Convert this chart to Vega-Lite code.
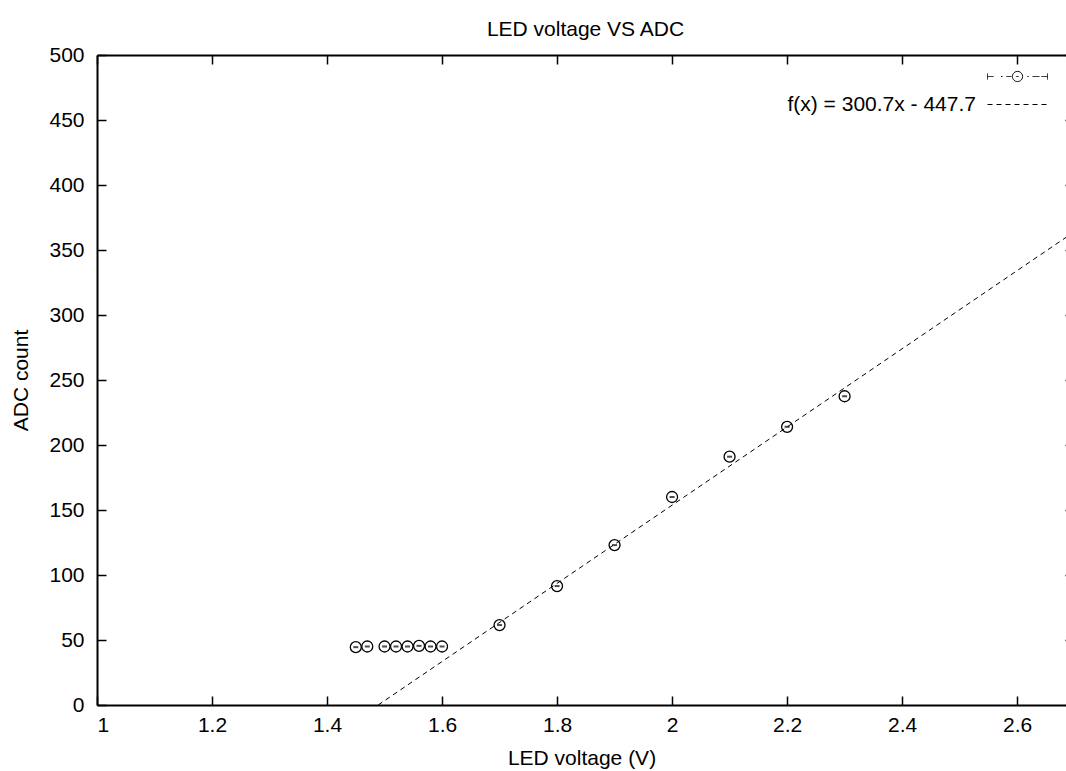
{
  "$schema": "https://vega.github.io/schema/vega-lite/v6.json",
  "width": 969,
  "height": 650,
  "autosize": {"type": "none"},
  "padding": {"left": 97, "top": 55, "right": 0, "bottom": 66},
  "background": "white",
  "title": {"text": "LED voltage VS ADC", "fontSize": 21, "font": "Liberation Sans", "fontWeight": "normal", "color": "black", "offset": 4, "dx": 4},
  "config": {
    "view": {"stroke": null},
    "font": "Liberation Sans",
    "axis": {
      "domainColor": "black", "domainWidth": 2, "tickColor": "black", "tickWidth": 1.5, "tickSize": -9,
      "labelColor": "black", "labelFontSize": 21, "labelFont": "Liberation Sans",
      "titleFontSize": 21, "titleFont": "Liberation Sans", "titleFontWeight": "normal", "titleColor": "black",
      "grid": false
    },
    "legend": {
      "title": null, "orient": "none", "legendX": 905, "legendY": 6, "labelAlign": "right", "labelOffset": -57,
      "labelFontSize": 21, "labelFont": "Liberation Sans", "labelColor": "black", "padding": 0, "labelLimit": 500,
      "symbolStrokeColor": "black", "symbolStrokeWidth": 1, "symbolSize": 900, "symbolFillColor": "transparent"
    }
  },
  "datasets": {
    "points": [
      {"v": 1.45, "adc": 44.5},
      {"v": 1.47, "adc": 45},
      {"v": 1.50, "adc": 45},
      {"v": 1.52, "adc": 45},
      {"v": 1.54, "adc": 45},
      {"v": 1.56, "adc": 45.5},
      {"v": 1.58, "adc": 45},
      {"v": 1.60, "adc": 45},
      {"v": 1.70, "adc": 61.5},
      {"v": 1.80, "adc": 91.5},
      {"v": 1.90, "adc": 123},
      {"v": 2.00, "adc": 160},
      {"v": 2.10, "adc": 191},
      {"v": 2.20, "adc": 214},
      {"v": 2.30, "adc": 237.5}
    ],
    "fit": [
      {"v": 1.4889, "adc": 0},
      {"v": 2.685, "adc": 359.7}
    ],
    "legend": [
      {"series": "data"},
      {"series": "f(x) = 300.7x - 447.7"}
    ]
  },
  "layer": [
    {
      "data": {"name": "fit"},
      "mark": {"type": "line", "stroke": "black", "strokeWidth": 1, "strokeDash": [5, 4], "clip": true},
      "encoding": {
        "x": {"field": "v", "type": "quantitative", "scale": {"domain": [1, 2.685], "nice": false, "zero": false},
              "axis": {"orient": "bottom", "values": [1, 1.2, 1.4, 1.6, 1.8, 2, 2.2, 2.4, 2.6], "format": "~g", "title": "LED voltage (V)", "labelPadding": 18, "titlePadding": 12}},
        "y": {"field": "adc", "type": "quantitative", "scale": {"domain": [0, 500], "nice": false, "zero": false},
              "axis": {"orient": "left", "values": [0, 50, 100, 150, 200, 250, 300, 350, 400, 450, 500], "title": "ADC count", "labelPadding": 22, "titlePadding": 17}}
      }
    },
    {
      "data": {"name": "points"},
      "mark": {"type": "point", "shape": "circle", "filled": false, "stroke": "black", "strokeWidth": 1.3, "size": 120, "opacity": 1},
      "encoding": {
        "x": {"field": "v", "type": "quantitative", "axis": null},
        "y": {"field": "adc", "type": "quantitative", "axis": null}
      }
    },
    {
      "data": {"name": "points"},
      "mark": {"type": "tick", "orient": "horizontal", "color": "black", "size": 5, "thickness": 2},
      "encoding": {
        "x": {"field": "v", "type": "quantitative", "axis": null},
        "y": {"field": "adc", "type": "quantitative", "axis": null}
      }
    },
    {
      "data": {"name": "points"},
      "mark": {"type": "point", "opacity": 0},
      "encoding": {
        "x": {"field": "v", "type": "quantitative", "axis": {"orient": "top", "values": [1, 1.2, 1.4, 1.6, 1.8, 2, 2.2, 2.4, 2.6], "labels": false, "title": null}},
        "y": {"field": "adc", "type": "quantitative", "axis": {"orient": "right", "offset": 8, "values": [0, 50, 100, 150, 200, 250, 300, 350, 400, 450, 500], "labels": false, "title": null, "domain": false}}
      }
    },
    {
      "data": {"name": "legend"},
      "mark": {"type": "point", "filled": false, "stroke": "black", "strokeWidth": 1, "opacity": 1, "size": 900},
      "encoding": {
        "x": {"field": "v", "type": "quantitative", "axis": null},
        "y": {"field": "adc", "type": "quantitative", "axis": null},
        "shape": {"field": "series", "type": "nominal",
                  "scale": {"domain": ["data", "f(x) = 300.7x - 447.7"],
                            "range": ["M-2,-0.2L-2,0.2M-2,0L-1.6,0M-1.1,0L-1,0M-0.74,0L-0.4,0M-0.34,0A0.34,0.34 0 1 0 0.34,0A0.34,0.34 0 1 0 -0.34,0M-0.08,0L0.08,0M0.66,0L0.76,0M1,0L1.46,0M1.6,0L2,0M2,-0.2L2,0.2", "M-2,0L2,0"]},
                  "legend": {"labelExpr": "datum.value == 'data' ? '' : datum.label"}},
        "strokeDash": {"field": "series", "type": "nominal",
                       "scale": {"domain": ["data", "f(x) = 300.7x - 447.7"], "range": [[1, 0], [5, 4]]},
                       "legend": {"labelExpr": "datum.value == 'data' ? '' : datum.label"}}
      }
    }
  ],
  "resolve": {"axis": {"x": "independent", "y": "independent"}}
}
